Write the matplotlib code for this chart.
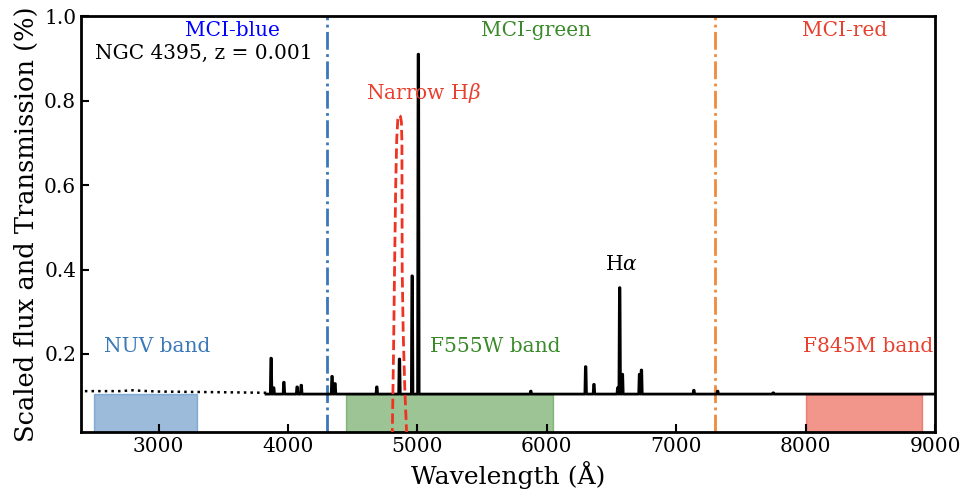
import numpy as np
import matplotlib
matplotlib.use("Agg")
import matplotlib.pyplot as plt

plt.rcParams['font.family'] = ['DejaVu Serif']
plt.rcParams['mathtext.fontset'] = 'dejavuserif'

# Continuum (dotted UV part and solid optical part)
uv_wave = [2430, 2700, 2800, 2850, 3000, 3300, 3600, 3850]
uv_flux = [0.112, 0.112, 0.114, 0.113, 0.111, 0.110, 0.109, 0.108]
opt_cont = 0.105
opt_range = [3830, 9000]

# Emission lines: centre wavelength (Å) and peak flux
line_wave = [3869, 3889, 3968, 4070, 4102, 4340, 4363, 4686, 4861, 4959, 5007,
             5876, 6300, 6364, 6548, 6563, 6584, 6716, 6731, 7136, 7320, 7750]
line_peak = [0.190, 0.120, 0.133, 0.122, 0.126, 0.147, 0.130, 0.122, 0.188, 0.385, 0.910,
             0.112, 0.170, 0.128, 0.120, 0.357, 0.152, 0.152, 0.162, 0.114, 0.112, 0.108]

# Narrow H-beta transmission curve
hb_wave = [4805, 4815, 4823, 4832, 4840, 4848, 4858, 4868, 4876, 4880, 4882, 4890, 4902, 4918]
hb_trans = [0.0, 0.2, 0.40, 0.60, 0.71, 0.755, 0.765, 0.763, 0.75, 0.70, 0.40, 0.25, 0.12, 0.0]

# Broadband filters
bands = {"NUV band": (2500, 3300), "F555W band": (4450, 6050), "F845M band": (8000, 8900)}
band_label_x = {"NUV band": 2985, "F555W band": 5600, "F845M band": 8480}
band_top = 0.105
mci_blue, mci_red = 4300, 7300

# Build spectrum points
w = [opt_range[0]]
f = [opt_cont]
for c, p in sorted(zip(line_wave, line_peak)):
    w += [c - 6, c - 2, c + 2, c + 6]
    f += [opt_cont, p, p, opt_cont]
w.append(opt_range[1])
f.append(opt_cont)

fig = plt.figure(figsize=(9.61, 4.91), dpi=100)
ax = fig.add_axes([0.0843, 0.120, 0.8887, 0.847])

c_blue = '#3a78b8'
c_green = '#3a8a2a'
c_red = '#e8402e'
fills = {"NUV band": ('#3a78b8', 0.5), "F555W band": ('#3a8a2a', 0.5), "F845M band": ('#e8402e', 0.55)}
tcol = {"NUV band": c_blue, "F555W band": c_green, "F845M band": c_red}
for name, (lo, hi) in bands.items():
    col, a = fills[name]
    ax.fill_between([lo, hi], 0, band_top, color=col, alpha=a, lw=1, zorder=1)
    ax.text(band_label_x[name], 0.217, name, color=tcol[name], fontsize=14.5, ha='center', va='center')

ax.plot(uv_wave, uv_flux, color='black', ls=':', lw=1.8, zorder=3)
ax.plot(w, f, color='black', lw=2.0, zorder=3)
ax.plot(hb_wave, hb_trans, color='#ee3322', ls='--', lw=2.0, zorder=4)

ax.axvline(mci_blue, color=c_blue, ls='-.', lw=2.0, zorder=2)
ax.axvline(mci_red, color='#f08a3c', ls='-.', lw=2.0, zorder=2)

ax.text(3570, 0.967, 'MCI-blue', color='blue', fontsize=14.5, ha='center', va='center')
ax.text(5915, 0.967, 'MCI-green', color=c_green, fontsize=14.5, ha='center', va='center')
ax.text(8300, 0.967, 'MCI-red', color=c_red, fontsize=14.5, ha='center', va='center')
ax.text(3346, 0.913, 'NGC 4395, z = 0.001', color='black', fontsize=14.5, ha='center', va='center')
ax.text(5046, 0.818, r'Narrow H$\beta$', color=c_red, fontsize=14.5, ha='center', va='center')
ax.text(6577, 0.413, r'H$\alpha$', color='black', fontsize=14.5, ha='center', va='center')

ax.set_xlim(2400, 9000)
ax.set_ylim(0.015, 1.0)
ax.set_xticks([3000, 4000, 5000, 6000, 7000, 8000, 9000])
ax.set_yticks([0.2, 0.4, 0.6, 0.8, 1.0])
ax.tick_params(direction='in', length=6, width=1.5, labelsize=14.5)
for s in ax.spines.values():
    s.set_linewidth(2)
ax.set_xlabel('Wavelength (Å)', fontsize=18)
ax.set_ylabel('Scaled flux and Transmission (%)', fontsize=18.5)

fig.savefig('out.png', dpi=100)
